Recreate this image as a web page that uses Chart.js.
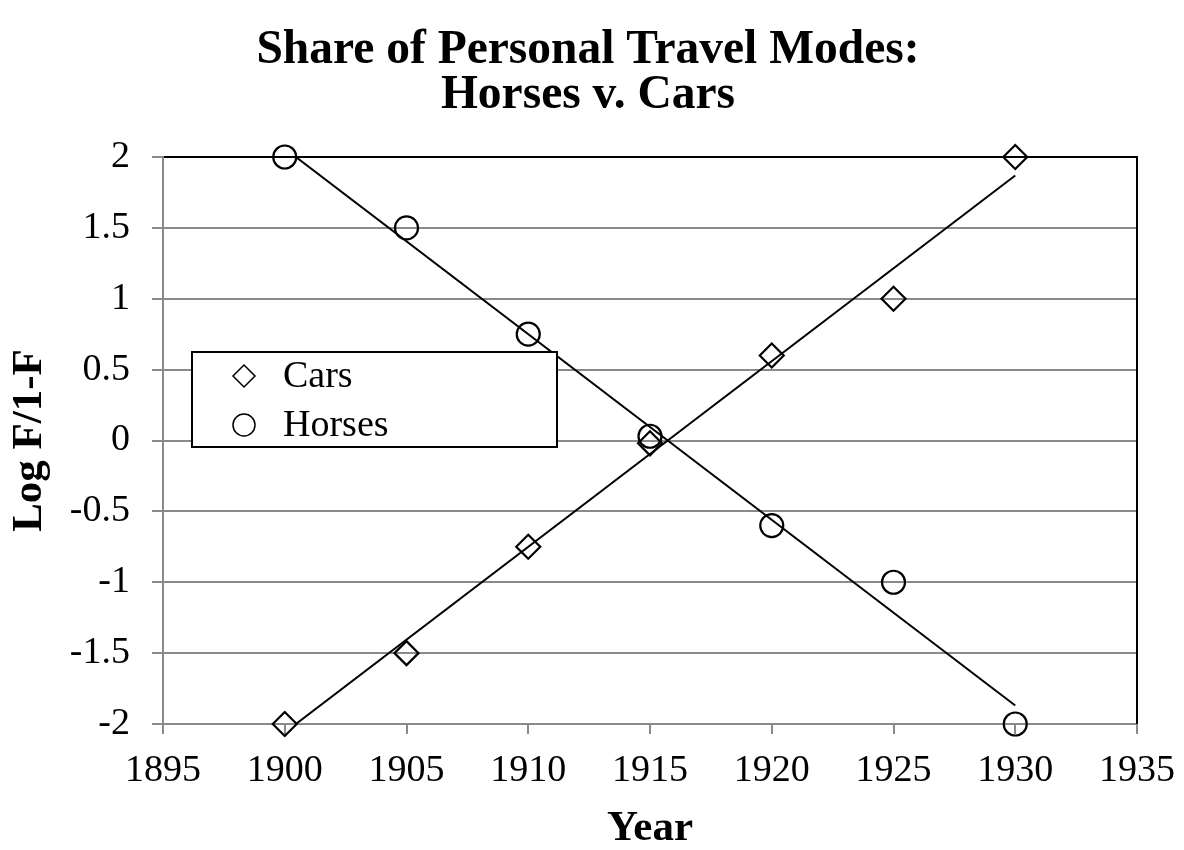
<!DOCTYPE html>
<html lang="en">
<head>
    <meta charset="UTF-8">
    <title>Share of Personal Travel Modes</title>
    <script src="https://cdn.jsdelivr.net/npm/chart.js"></script>
    <style>
        html, body {
            margin: 0;
            padding: 0;
            background: #ffffff;
        }

        canvas {
            display: block;
        }
    </style>
</head>
<body>
    <canvas id="chartCanvas" width="1184" height="850"></canvas>
    <script>
        // data
        const years = [1900, 1905, 1910, 1915, 1920, 1925, 1930];
        const carsValues = [-2, -1.5, -0.75, -0.02, 0.6, 1.0, 2.0];
        const horsesValues = [2, 1.5, 0.75, 0.03, -0.6, -1.0, -2.0];

        // linear trend lines (end points as seen in the picture)
        const trendYears = [1900, 1930];
        const carsTrend = [-2.06, 1.87];
        const horsesTrend = [2.06, -1.87];

        const xTicks = [1895, 1900, 1905, 1910, 1915, 1920, 1925, 1930, 1935];
        const yTicks = [-2, -1.5, -1, -0.5, 0, 0.5, 1, 1.5, 2];

        const titleLines = ['Share of Personal Travel Modes:', 'Horses v. Cars'];

        const FONT = "'Liberation Serif', 'Times New Roman', serif";
        const GRID = '#8a8a8a';

        function toPoints(xs, ys) {
            return xs.map((x, i) => ({ x: x, y: ys[i] }));
        }

        // title centred on the whole picture (not on the plot)
        const titlePlugin = {
            id: 'pageTitle',
            afterDraw(chart) {
                const ctx = chart.ctx;
                ctx.save();
                ctx.font = 'bold 47.5px ' + FONT;
                ctx.fillStyle = '#000';
                ctx.textAlign = 'center';
                ctx.textBaseline = 'middle';
                titleLines.forEach((line, i) => {
                    ctx.fillText(line, 588, 51 + i * 45);
                });
                ctx.restore();
            }
        };

        // black frame on top and right, drawn over the grid
        const framePlugin = {
            id: 'frame',
            beforeDatasetsDraw(chart) {
                const { ctx, chartArea: a } = chart;
                ctx.save();
                ctx.strokeStyle = '#000';
                ctx.lineWidth = 2;
                ctx.beginPath();
                ctx.moveTo(a.left + 1, a.top);
                ctx.lineTo(a.right, a.top);
                ctx.lineTo(a.right, a.bottom);
                ctx.stroke();
                ctx.restore();
            }
        };

        // legend box placed inside the plot, like the original
        const legendBox = {
            id: 'legendBox',
            afterDraw(chart) {
                const ctx = chart.ctx;
                const left = 192, top = 352, w = 365, h = 95;
                ctx.save();
                ctx.fillStyle = '#fff';
                ctx.fillRect(left, top, w, h);
                ctx.strokeStyle = '#000';
                ctx.lineWidth = 2;
                ctx.strokeRect(left, top, w, h);

                ctx.font = '38px ' + FONT;
                ctx.fillStyle = '#000';
                ctx.textBaseline = 'middle';
                ctx.textAlign = 'left';
                ctx.lineWidth = 1.5;

                chart.data.datasets.slice(0, 2).forEach((ds, i) => {
                    const cy = top + 24 + i * 49;
                    const cx = left + 52;
                    ctx.beginPath();
                    if (ds.pointStyle === 'rectRot') {
                        ctx.moveTo(cx, cy - 11);
                        ctx.lineTo(cx + 11, cy);
                        ctx.lineTo(cx, cy + 11);
                        ctx.lineTo(cx - 11, cy);
                        ctx.closePath();
                    } else {
                        ctx.arc(cx, cy, 11, 0, Math.PI * 2);
                    }
                    ctx.stroke();
                    ctx.fillText(ds.label, left + 91, cy + 1);
                });
                ctx.restore();
            }
        };

        const ctx = document.getElementById('chartCanvas').getContext('2d');
        new Chart(ctx, {
            type: 'scatter',
            data: {
                datasets: [
                    {
                        label: 'Cars',
                        data: toPoints(years, carsValues),
                        pointStyle: 'rectRot',
                        pointRadius: 12,
                        pointBorderWidth: 2.2,
                        borderColor: '#000',
                        backgroundColor: 'rgba(0,0,0,0)',
                        clip: false
                    },
                    {
                        label: 'Horses',
                        data: toPoints(years, horsesValues),
                        pointStyle: 'circle',
                        pointRadius: 11.5,
                        pointBorderWidth: 2.2,
                        borderColor: '#000',
                        backgroundColor: 'rgba(0,0,0,0)',
                        clip: false
                    },
                    {
                        label: 'Linear (Cars)',
                        type: 'line',
                        data: toPoints(trendYears, carsTrend),
                        borderColor: '#000',
                        borderWidth: 2,
                        pointRadius: 0,
                        fill: false,
                        clip: 0
                    },
                    {
                        label: 'Linear (Horses)',
                        type: 'line',
                        data: toPoints(trendYears, horsesTrend),
                        borderColor: '#000',
                        borderWidth: 2,
                        pointRadius: 0,
                        fill: false,
                        clip: 0
                    }
                ]
            },
            options: {
                responsive: false,
                animation: false,
                maintainAspectRatio: false,
                layout: { padding: { left: 0, right: 47, top: 157, bottom: 0 } },
                plugins: {
                    legend: { display: false },
                    tooltip: { enabled: false },
                    title: { display: false }
                },
                scales: {
                    x: {
                        type: 'linear',
                        min: 1895,
                        max: 1935,
                        afterBuildTicks: (scale) => {
                            scale.ticks = xTicks.map(v => ({ value: v }));
                        },
                        afterFit: (scale) => { scale.height = 126; },
                        ticks: {
                            color: '#000',
                            font: { family: FONT, size: 38, lineHeight: 1.68 },
                            padding: 5,
                            maxRotation: 0,
                            autoSkip: false,
                            callback: (v) => String(v)
                        },
                        grid: {
                            drawOnChartArea: false,
                            drawTicks: true,
                            tickLength: 10,
                            color: GRID,
                            lineWidth: 2
                        },
                        border: { display: true, color: GRID, width: 2 },
                        title: {
                            display: true,
                            text: 'Year',
                            color: '#000',
                            font: { family: FONT, size: 43, weight: 'bold', lineHeight: 1 },
                            padding: { top: 0, bottom: 0 }
                        }
                    },
                    y: {
                        min: -2,
                        max: 2,
                        afterBuildTicks: (scale) => {
                            scale.ticks = yTicks.map(v => ({ value: v }));
                        },
                        afterFit: (scale) => { scale.width = 163; },
                        ticks: {
                            color: '#000',
                            font: { family: FONT, size: 38 },
                            padding: 22,
                            callback: (v) => String(v)
                        },
                        grid: {
                            color: GRID,
                            lineWidth: 2,
                            tickLength: 11
                        },
                        border: { display: true, color: GRID, width: 2 },
                        title: {
                            display: true,
                            text: 'Log F/1-F',
                            color: '#000',
                            font: { family: FONT, size: 43, weight: 'bold', lineHeight: 1.2 },
                            padding: { top: 4, bottom: 0 }
                        }
                    }
                }
            },
            plugins: [framePlugin, legendBox, titlePlugin]
        });
    </script>
</body>
</html>
